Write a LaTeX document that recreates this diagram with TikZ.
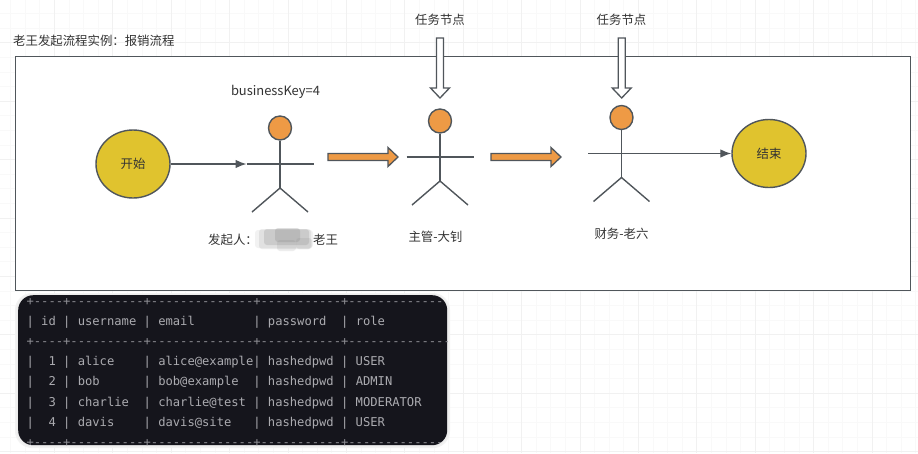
\documentclass[tikz,border=0pt]{standalone}
\usepackage{fontspec}
\setmainfont{Noto Sans CJK SC}
\newfontfamily\tablefont{DejaVu Sans Mono}
\usetikzlibrary{arrows.meta,shapes.geometric,calc}
\definecolor{linec}{HTML}{50565B}
\definecolor{textc}{HTML}{333333}
\definecolor{goldc}{HTML}{E0C32E}
\definecolor{orangec}{HTML}{EE9A45}
\definecolor{gridminor}{HTML}{F9F9F9}
\definecolor{gridmajor}{HTML}{F1F1F1}
\definecolor{darkbox}{HTML}{15151C}
\definecolor{termtext}{HTML}{ABABB0}
\definecolor{termdash}{HTML}{8E8E94}
\tikzset{
  x=1pt,y=-1pt,
  lbl/.style={font=\fontsize{12.4}{14}\selectfont,text=textc,inner sep=0pt},
  stroke/.style={draw=linec,line width=1.4pt},
  terminal/.style={ellipse,draw=linec,line width=1.4pt,fill=goldc,minimum width=74pt,minimum height=68pt,inner sep=0pt,font=\fontsize{12.4}{14}\selectfont,text=textc},
  head/.style={ellipse,draw=linec,line width=1.4pt,fill=orangec,minimum width=23pt,minimum height=24pt,inner sep=0pt},
  flow/.style={draw=linec,line width=1.3pt,-{Latex[length=11pt,width=8.5pt]}},
  row/.style={anchor=west,inner sep=0pt,text=termtext,font=\tablefont\fontsize{12.15}{14}\selectfont},
  dashrow/.style={row,text=termdash},
  blockorange/.style={draw=linec,line width=1.3pt,fill=orangec,line join=miter},
  blockwhite/.style={draw=linec,line width=1.3pt,fill=white,line join=miter},
  patch/.style={fill=gray,fill opacity=#1,draw=none,rounded corners=3pt}
}
% actor: name, x, y of head centre
\newcommand{\stickman}[3]{%
  \node[head] (#1h) at (#2,#3) {};
  \coordinate (#1w) at (#2-33.5,#3+36);
  \coordinate (#1e) at (#2+33.5,#3+36);
  \coordinate (#1c) at (#2,#3+60);
  \coordinate (#1l) at (#2-28,#3+84);
  \coordinate (#1r) at (#2+28,#3+84);
  \draw[stroke] (#1h.south) -- (#1c);
  \draw[stroke] (#1w) -- (#1e);
  \draw[stroke] (#1l) -- (#1c) -- (#1r);
}
\newcommand{\orangearrow}[3]{% name, left x, centre y
  \coordinate (#1) at (#2,#3);
  \draw[blockorange] ($(#1)+(0,-3.5)$) -- ++(60,0) -- ++(0,-6) -- ($(#1)+(70,0)$) -- ($(#1)+(60,9.5)$) -- ++(0,-6) -- ($(#1)+(0,3.5)$) -- cycle;
}
\newcommand{\whitearrow}[3]{% name, centre x, top y
  \coordinate (#1) at (#2,#3);
  \draw[blockwhite] ($(#1)+(-3.5,0)$) -- ++(0,50) -- ++(-6,0) -- ($(#1)+(0,60)$) -- ($(#1)+(9.5,50)$) -- ++(-6,0) -- ($(#1)+(3.5,0)$) -- cycle;
}
\begin{document}
\begin{tikzpicture}
\useasboundingbox (0,0) rectangle (918,453);
\fill[white] (0,0) rectangle (918,453);
% background grid
\foreach \i in {0,...,63} \draw[gridminor,line width=0.8pt] (\i*14.6-4,0) -- (\i*14.6-4,453);
\foreach \i in {0,...,31} \draw[gridminor,line width=0.8pt] (0,\i*14.6-1) -- (918,\i*14.6-1);
\foreach \i in {0,...,16} \draw[gridmajor,line width=1pt] (\i*58.4-4,0) -- (\i*58.4-4,453);
\foreach \i in {0,...,8} \draw[gridmajor,line width=1pt] (0,\i*58.4-15.6) -- (918,\i*58.4-15.6);
% frame
\node[draw=linec,line width=1.3pt,fill=white,minimum width=895pt,minimum height=234pt,inner sep=0pt,anchor=north west] (frame) at (15,56) {};
\node[lbl,anchor=west] (title) at (13,40.5) {老王发起流程实例：报销流程};
% terminals
\node[terminal] (start) at (133,164) {开始};
\node[terminal] (end) at (769,153.5) {结束};
% actors
\stickman{a}{280}{128}
\stickman{b}{440}{121}
\stickman{c}{621.5}{117.5}
% connectors
\draw[flow] (start.east) -- (aw);
\draw[flow] (ce) -- (end.west);
% block arrows
\orangearrow{oa}{328}{157}
\orangearrow{ob}{491}{157}
\whitearrow{wa}{440}{38}
\whitearrow{wb}{621.7}{38}
% labels
\node[lbl] (t1) at (440,19.5) {任务节点};
\node[lbl] (t2) at (621.5,19.5) {任务节点};
\node[lbl,font=\fontsize{12.9}{14}\selectfont] (key) at (275.5,92) {businessKey=4};
\node[lbl,anchor=west] (la) at (208,240) {发起人：};
\node[lbl,anchor=west] (lb) at (313,240) {老王};
\node[lbl] (lc) at (435.5,237) {主管-大钊};
\node[lbl] (ld) at (621.5,233.5) {财务-老六};
% blurred patch
\fill[patch=0.10] (255,230) rectangle (313,248);
\fill[patch=0.14] (259,229) rectangle (311,249);
\fill[patch=0.22] (264,229) rectangle (309,245);
\fill[patch=0.24] (275,228) rectangle (300,242);
\fill[patch=0.14] (277,240) rectangle (296,251);
\fill[patch=0.14] (296,238) rectangle (312,249);
% terminal table
\fill[black!5,rounded corners=17pt] (15,293) rectangle (450,448);
\fill[black!7,rounded corners=16pt] (16.5,294) rectangle (448.5,446.5);
\node[fill=darkbox,rounded corners=15pt,minimum width=429pt,minimum height=150pt,inner sep=0pt,anchor=north west] (term) at (18,295) {};
\begin{scope}
\clip[rounded corners=15pt] (18,295) rectangle (447,445);
\node[dashrow] (r0) at (26.4,302) {+----+----------+--------------+-----------+--------------};
\node[row] (r1) at (26.4,322) {|~id~|~username~|~email~~~~~~~~|~password~~|~role~~~~~~~~~~~|};
\node[dashrow] (r2) at (26.4,342) {+----+----------+--------------+-----------+--------------};
\node[row] (r3) at (26.4,362.5) {|~~1~|~alice~~~~|~alice@example|~hashedpwd~|~USER~~~~~~~~~~~|};
\node[row] (r4) at (26.4,382.5) {|~~2~|~bob~~~~~~|~bob@example~~|~hashedpwd~|~ADMIN~~~~~~~~~~|};
\node[row] (r5) at (26.4,403) {|~~3~|~charlie~~|~charlie@test~|~hashedpwd~|~MODERATOR~~~~~~|};
\node[row] (r6) at (26.4,423.5) {|~~4~|~davis~~~~|~davis@site~~~|~hashedpwd~|~USER~~~~~~~~~~~|};
\node[dashrow] (r7) at (26.4,443) {+----+----------+--------------+-----------+--------------};
\end{scope}
\end{tikzpicture}
\end{document}
